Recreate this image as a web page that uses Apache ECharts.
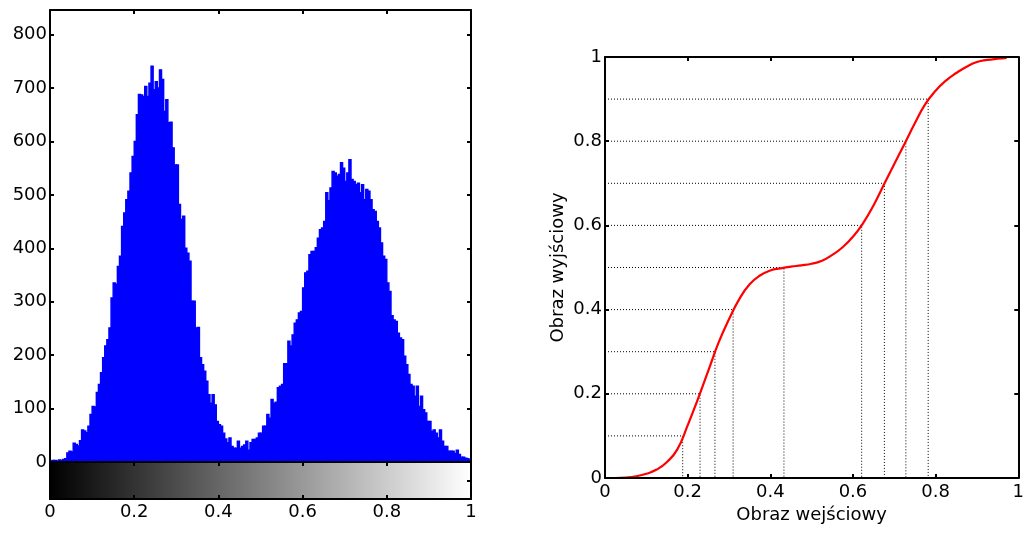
<!DOCTYPE html>
<html><head><meta charset="utf-8">
<script src="https://cdn.jsdelivr.net/npm/echarts@6/dist/echarts.min.js"></script>
<style>html,body{margin:0;padding:0;background:#fff}#c{width:1027px;height:549px}</style>
</head><body><div id="c"></div>
<script>
// ---- data ----
const histCounts = [
  2,3,3,2,4,3,5,6,17,20,
  19,35,33,30,40,60,58,55,67,89,
  104,103,130,145,167,195,217,229,251,307,
  335,333,366,385,441,466,491,507,541,572,
  600,650,688,687,684,703,684,709,741,697,
  712,700,734,716,656,678,635,636,588,556,
  556,482,454,460,400,391,376,301,301,251,
  252,195,182,170,151,126,110,126,107,76,
  70,67,54,43,36,45,29,26,26,39,
  26,29,32,39,22,36,42,42,45,54,
  54,67,67,89,82,117,110,112,139,142,
  145,184,184,226,217,238,260,266,279,282,
  326,354,357,388,394,394,401,419,435,438,
  450,504,489,513,544,541,535,538,560,550,
  525,541,566,529,525,519,522,504,519,491,
  510,507,491,472,469,450,438,410,385,379,
  335,319,274,266,263,241,232,229,198,182,
  164,145,142,123,142,104,123,98,92,76,
  76,57,60,54,45,60,39,29,29,20,
  20,20,16,22,14,9,9,7,6,4
];
const histRange = [0, 1];
const histYMax = 846;
const colorbarRange = [0, 1];

const cdfX = [0, 0.025, 0.05, 0.075, 0.1, 0.125, 0.15, 0.175, 0.2, 0.225, 0.25, 0.275, 0.3, 0.325, 0.35, 0.375, 0.4, 0.425, 0.45, 0.475, 0.5, 0.525, 0.55, 0.575, 0.6, 0.625, 0.65, 0.675, 0.7, 0.725, 0.75, 0.775, 0.8, 0.825, 0.85, 0.875, 0.9, 0.925, 0.95, 0.972];
const cdfY = [0, 0, 0.001, 0.004, 0.01, 0.02, 0.038, 0.068, 0.125, 0.188, 0.255, 0.322, 0.377, 0.425, 0.46, 0.481, 0.493, 0.498, 0.502, 0.505, 0.509, 0.516, 0.53, 0.548, 0.573, 0.606, 0.648, 0.697, 0.746, 0.794, 0.843, 0.888, 0.92, 0.944, 0.962, 0.977, 0.988, 0.993, 0.996, 0.998];

const levels = [0.1, 0.2, 0.3, 0.4, 0.5, 0.6, 0.7, 0.8, 0.9];
const levelX = [0.188, 0.230, 0.266, 0.310, 0.433, 0.621, 0.676, 0.728, 0.782];

const xAxisTitle = 'Obraz wejściowy';
const yAxisTitle = 'Obraz wyjściowy';

// ---- style ----
const FONT = 'DejaVu Sans';
const FS = 18;
const lineS = {show: true, onZero: false, lineStyle: {color: '#000', width: 2}};
const tickS = {show: true, inside: true, length: 4, lineStyle: {color: '#000', width: 2}};
const noTick = {show: false};
const lab = (m) => ({show: true, margin: m, color: '#000', fontFamily: FONT, fontSize: FS, showMaxLabel: true});
const nolab = {show: false};

function ax(grid, pos, min, max, interval, extra) {
  return Object.assign({
    gridIndex: grid, type: 'value', position: pos, min: min, max: max, interval: interval,
    axisLine: lineS, axisTick: tickS, axisLabel: nolab, splitLine: {show: false}, z: 10
  }, extra || {});
}

const chart = echarts.init(document.getElementById('c'), null, {renderer: 'canvas'});

const series = [];
// histogram bars
series.push({
  type: 'custom', xAxisIndex: 0, yAxisIndex: 0, silent: true,
  data: histCounts.map((c, i) => [i, c]),
  renderItem: function (params, api) {
    const n = histCounts.length;
    const i = api.value(0), c = api.value(1);
    const x0 = histRange[0] + (histRange[1] - histRange[0]) * i / n;
    const x1 = histRange[0] + (histRange[1] - histRange[0]) * (i + 1) / n;
    const p0 = api.coord([x0, c]);
    const p1 = api.coord([x1, 0]);
    return {type: 'rect', shape: {x: p0[0], y: p0[1], width: p1[0] - p0[0], height: p1[1] - p0[1]},
      style: {fill: '#0000ff', stroke: '#0000ff', lineWidth: 1.4}};
  }
});
// colorbar
series.push({
  type: 'custom', xAxisIndex: 2, yAxisIndex: 2, silent: true,
  data: [colorbarRange],
  renderItem: function (params, api) {
    const p0 = api.coord([api.value(0), 1]);
    const p1 = api.coord([api.value(1), 0]);
    return {type: 'rect', shape: {x: p0[0], y: p0[1], width: p1[0] - p0[0], height: p1[1] - p0[1]},
      style: {fill: {type: 'linear', x: 0, y: 0, x2: 1, y2: 0,
        colorStops: [{offset: 0, color: '#000'}, {offset: 1, color: '#fff'}]}}};
  }
});
// dotted guides
levels.forEach((l, k) => {
  series.push({
    type: 'line', xAxisIndex: 4, yAxisIndex: 4, silent: true, symbol: 'none', z: 1,
    data: [[0, l], [levelX[k], l], [levelX[k], 0]],
    lineStyle: {color: '#000', width: 1, type: [1, 2]}
  });
});
// cdf curve
series.push({
  type: 'line', xAxisIndex: 4, yAxisIndex: 4, silent: true, symbol: 'none', z: 3,
  smooth: 0.5,
  data: cdfX.map((x, i) => [x, cdfY[i]]),
  lineStyle: {color: '#ff0000', width: 2.2}
});

chart.setOption({
  animation: false,
  backgroundColor: '#fff',
  textStyle: {fontFamily: FONT},
  grid: [
    {left: 50, top: 10, width: 421, height: 452},
    {left: 50, top: 462, width: 421, height: 37},
    {left: 605, top: 57, width: 420, height: 421}
  ],
  xAxis: [
    ax(0, 'bottom', 0, 1, 0.2, {axisTick: noTick}),
    ax(0, 'top', 0, 1, 0.2),
    ax(1, 'bottom', 0, 1, 0.2, {axisLabel: lab(4)}),
    ax(1, 'top', 0, 1, 0.2),
    ax(2, 'bottom', 0, 1, 0.2, {axisLabel: lab(5), name: xAxisTitle, nameLocation: 'middle', nameGap: 26,
      nameTextStyle: {color: '#000', fontFamily: FONT, fontSize: FS}}),
    ax(2, 'top', 0, 1, 0.2)
  ],
  yAxis: [
    ax(0, 'left', 0, histYMax, 100, {axisLabel: Object.assign(lab(3), {showMaxLabel: false})}),
    ax(0, 'right', 0, histYMax, 100),
    ax(1, 'left', 0, 1, 0.5),
    ax(1, 'right', 0, 1, 0.5),
    ax(2, 'left', 0, 1, 0.2, {axisLabel: lab(3), name: yAxisTitle, nameLocation: 'middle', nameGap: 38,
      nameTextStyle: {color: '#000', fontFamily: FONT, fontSize: FS}}),
    ax(2, 'right', 0, 1, 0.2)
  ],
  series: series
});
</script></body></html>
